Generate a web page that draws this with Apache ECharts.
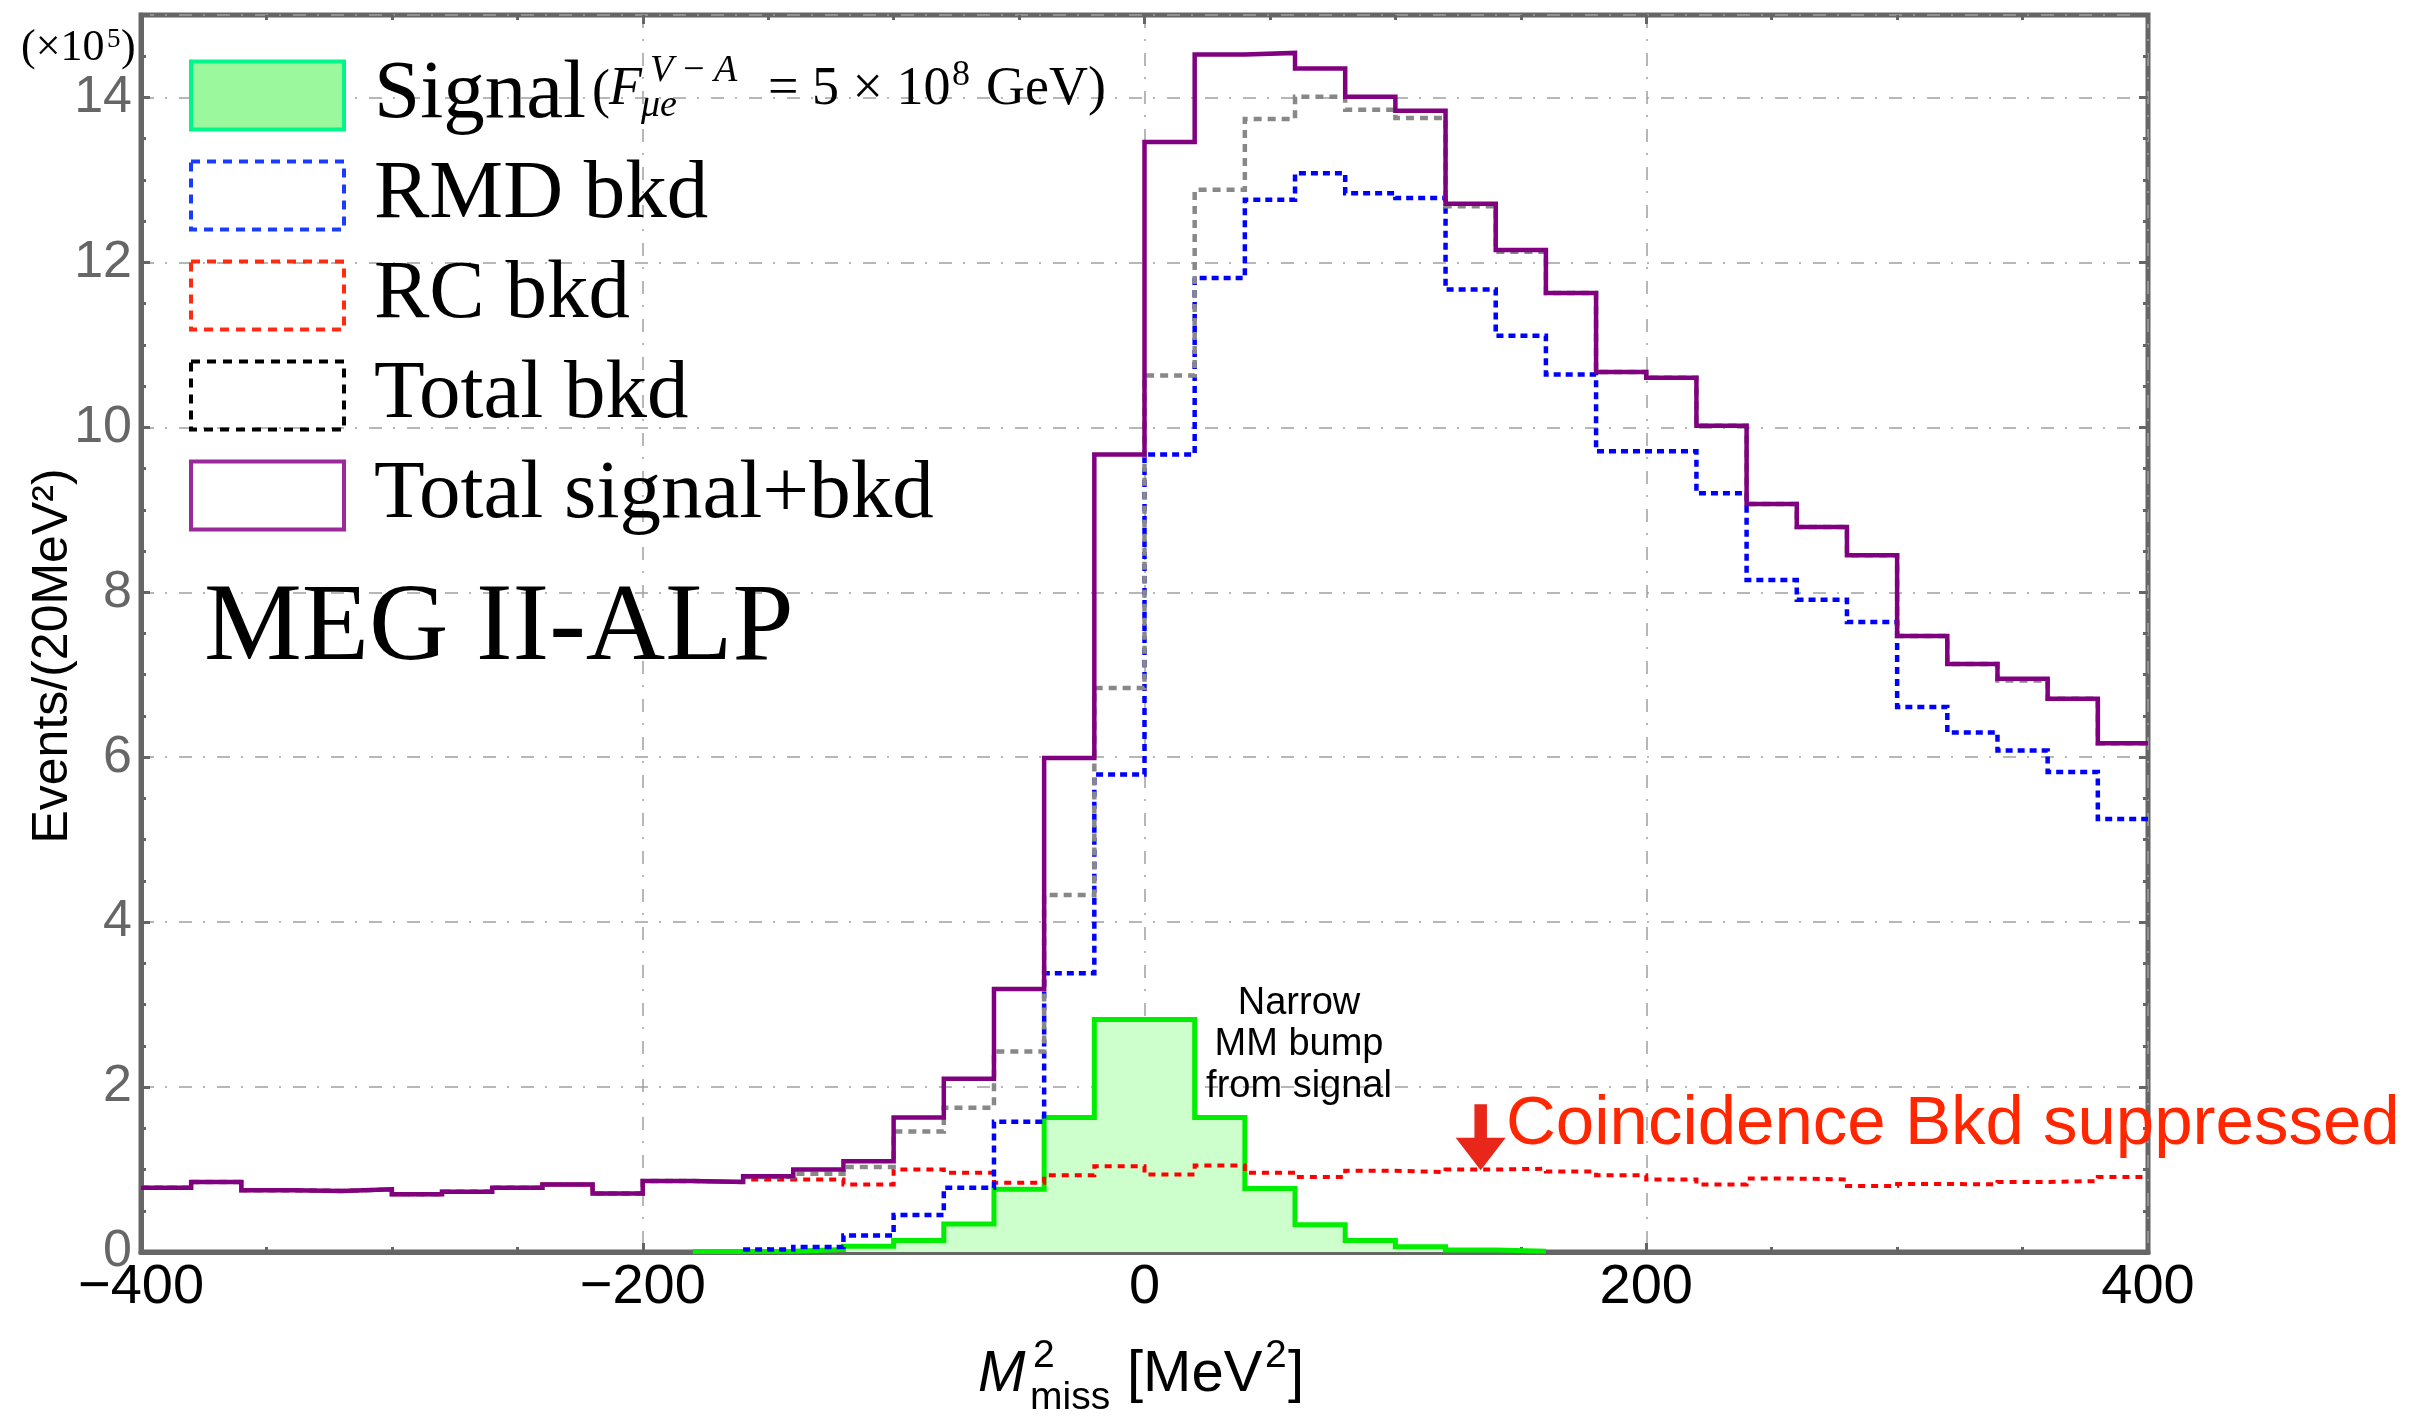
<!DOCTYPE html>
<html><head><meta charset="utf-8">
<script src="https://cdn.jsdelivr.net/npm/echarts@6/dist/echarts.min.js"></script>
<style>html,body{margin:0;padding:0;background:#fff}#c{width:2431px;height:1418px}</style>
</head><body><div id="c"></div>
<script>
// ---- data (x: bin edges in MeV^2, y: events / 20 MeV^2 in units of 1e5) ----
const binEdges = [-400,-380,-360,-340,-320,-300,-280,-260,-240,-220,-200,-180,-160,-140,-120,-100,-80,-60,-40,-20,0,20,40,60,80,100,120,140,160,180,200,220,240,260,280,300,320,340,360,380,400];
const xTickValues = [-400,-200,0,200,400];
const yTickValues = [0,2,4,6,8,10,12,14];
const seriesNames = ['Signal','RMD bkd','RC bkd','Total bkd','Total signal+bkd'];
const signalVals = [null,null,null,null,null,null,null,null,null,null,null,
  0.005,0.01,0.03,0.07,0.14,0.34,0.76,1.63,2.82,2.82,1.63,0.77,0.33,0.14,0.065,0.025,0.01,
  null,null,null,null,null,null,null,null,null,null,null,null];
const rmdVals = [null,null,null,null,null,null,null,null,null,null,null,null,
  0.03,0.06,0.20,0.45,0.78,1.58,3.38,5.79,9.67,11.81,12.76,13.08,12.84,12.78,11.67,11.11,10.64,9.71,9.71,9.20,8.15,7.91,7.64,6.61,6.30,6.08,5.82,5.25];
const rcVals = [0.78,0.85,0.75,0.74,0.76,0.70,0.73,0.78,0.82,0.71,0.86,0.85,
  0.88,0.88,0.82,1.00,0.96,0.84,0.93,1.04,0.94,1.05,0.96,0.91,0.985,0.97,1.00,1.01,0.975,0.93,0.88,0.82,0.89,0.88,0.80,0.825,0.82,0.85,0.86,0.91];
const totalBkdVals = [0.78,0.85,0.75,0.74,0.76,0.70,0.73,0.78,0.82,0.71,0.86,0.85,
  0.91,0.95,1.03,1.46,1.75,2.43,4.33,6.84,10.63,12.88,13.74,14.01,13.85,13.75,12.68,12.13,11.63,10.67,10.60,10.02,9.07,8.79,8.45,7.47,7.13,6.93,6.71,6.17];
const totalVals = [0.78,0.85,0.75,0.74,0.76,0.70,0.73,0.78,0.82,0.71,0.86,0.85,
  0.92,1.00,1.10,1.63,2.10,3.19,5.99,9.67,13.46,14.52,14.54,14.35,14.01,13.84,12.71,12.15,11.63,10.67,10.60,10.02,9.07,8.79,8.45,7.47,7.13,6.95,6.71,6.17];
const arrowTarget = [134, 0.99];

// histogram outline points built from the bin edges and bin values
function stepData(vals) {
  const pts = [];
  for (let i = 0; i < vals.length; i++) {
    const v = vals[i];
    if (v === null) {
      if (pts.length && pts[pts.length - 1][1] !== null) pts.push([binEdges[i], null]);
      continue;
    }
    pts.push([binEdges[i], v], [binEdges[i + 1], v]);
  }
  return pts;
}

const chart = echarts.init(document.getElementById('c'), null, {renderer: 'canvas'});
const SANS = '"Liberation Sans", Arial, Helvetica, sans-serif';
const SERIF = '"Liberation Serif", "Times New Roman", serif';
const gridDash = [13, 11, 2, 12];

function txt(str, x, baseline, size, family, extra) {
  const k = family === SERIF ? 0.3375 : 0.3465;
  const st = Object.assign({
    text: str, fontSize: size, fontFamily: family, fill: '#000',
    align: 'left', textAlign: 'left', verticalAlign: 'middle', textVerticalAlign: 'middle'
  }, extra || {});
  return {type: 'text', x: x, y: baseline - k * size, silent: true, z: 100, style: st};
}
const C = {align: 'center', textAlign: 'center'};

const graphics = [
  // y multiplier
  txt('(\u00d710', 21, 63, 44, SERIF),
  txt('5', 107, 49, 27, SERIF),
  txt(')', 121, 63, 44, SERIF),
  // y axis title (rotated)
  {type: 'text', x: 53, y: 656, rotation: Math.PI / 2, silent: true, z: 100,
   style: {text: 'Events/(20MeV\u00b2)', fontSize: 50, fontFamily: SANS, fill: '#000',
           align: 'center', textAlign: 'center', verticalAlign: 'middle', textVerticalAlign: 'middle'}},
  // Signal legend formula
  txt('(', 592, 111, 54, SERIF),
  txt('F', 609, 108, 54, SERIF, {fontStyle: 'italic'}),
  txt('V\u2009\u2212\u2009A', 650, 84, 38, SERIF, {fontStyle: 'italic'}),
  txt('\u03bce', 641, 119, 38, SERIF, {fontStyle: 'italic'}),
  txt('= 5 \u00d7 10', 768, 108, 54, SERIF),
  txt('8', 952, 88, 36, SERIF),
  txt('GeV)', 986, 108, 54, SERIF),
  // label
  txt('MEG II-ALP', 204, 667, 110, SERIF),
  // annotations
  txt('Narrow', 1299, 1017, 38, SANS, C),
  txt('MM bump', 1299, 1058, 38, SANS, C),
  txt('from signal', 1299, 1100, 38, SANS, C),
  txt('Coincidence Bkd suppressed', 1506, 1149, 69, SANS, {fill: '#ff2600'}),
  // x axis title
  txt('M', 978, 1395, 57, SANS, {fontStyle: 'italic'}),
  txt('2', 1033, 1370, 39, SANS),
  txt('miss', 1030, 1412, 39, SANS),
  txt('[MeV', 1127, 1395, 58, SANS),
  txt('2', 1265, 1370, 39, SANS),
  txt(']', 1288, 1395, 58, SANS)
];

function xAx(pos, labels) {
  return {
    type: 'value', position: pos, min: xTickValues[0], max: xTickValues[xTickValues.length - 1], interval: 200,
    axisLine: {show: pos === 'bottom', onZero: false, lineStyle: {color: '#666', width: 5}},
    axisTick: {show: true, inside: true, length: 9, lineStyle: {color: '#666', width: 3}},
    minorTick: {show: true, splitNumber: 4, length: 5, lineStyle: {color: '#666', width: 3}},
    axisLabel: {show: labels, color: '#000', fontSize: 56, fontFamily: SANS, margin: 8,
      formatter: v => (v < 0 ? '\u2212' + Math.abs(v) : String(v))},
    splitLine: {show: labels, lineStyle: {color: '#a0a0a0', width: 1.5, type: gridDash}}
  };
}
function yAx(pos, labels) {
  return {
    type: 'value', position: pos, min: 0, max: 15, interval: 2,
    axisLine: {show: pos === 'left', onZero: false, lineStyle: {color: '#666', width: 5}},
    axisTick: {show: true, inside: true, length: 9, lineStyle: {color: '#666', width: 3}},
    minorTick: {show: true, splitNumber: 4, length: 5, lineStyle: {color: '#666', width: 3}},
    axisLabel: {show: labels, color: '#666', fontSize: 52, fontFamily: SANS, margin: 9, showMaxLabel: false,
      formatter: v => (yTickValues.indexOf(v) >= 0 ? String(v) : '')},
    splitLine: {show: labels, lineStyle: {color: '#a0a0a0', width: 1.5, type: gridDash}}
  };
}

const lineBase = {type: 'line', showSymbol: false, symbol: 'none', silent: true, connectNulls: false, xAxisIndex: 0, yAxisIndex: 0};

chart.setOption({
  animation: false,
  backgroundColor: '#fff',
  grid: {left: 141, right: 283, top: 15, bottom: 166, show: true, borderColor: '#666', borderWidth: 5, backgroundColor: 'transparent'},
  xAxis: [xAx('bottom', true), xAx('top', false)],
  yAxis: [yAx('left', true), yAx('right', false)],
  legend: {
    orient: 'vertical', left: 189, top: 54, padding: 0,
    itemWidth: 153, itemHeight: 68, itemGap: 17,
    icon: 'rect', selectedMode: false,
    textStyle: {fontFamily: SERIF, fontSize: 83, color: '#000', padding: [0, 0, 0, 25]},
    data: [
      {name: seriesNames[0], itemStyle: {color: '#9cf89c', borderColor: '#00f68a', borderWidth: 4}},
      {name: seriesNames[1], itemStyle: {color: 'rgba(255,255,255,0)', borderColor: '#1a3cff', borderWidth: 4, borderType: [9, 7]}},
      {name: seriesNames[2], itemStyle: {color: 'rgba(255,255,255,0)', borderColor: '#ff2a10', borderWidth: 4, borderType: [9, 7]}},
      {name: seriesNames[3], itemStyle: {color: 'rgba(255,255,255,0)', borderColor: '#000000', borderWidth: 4, borderType: [9, 7]}},
      {name: seriesNames[4], itemStyle: {color: 'rgba(255,255,255,0)', borderColor: '#9a2a9a', borderWidth: 4}}
    ]
  },
  series: [
    Object.assign({}, lineBase, {
      name: seriesNames[0], data: stepData(signalVals), z: 2,
      lineStyle: {color: '#00ee00', width: 5, cap: 'butt', join: 'miter'},
      itemStyle: {color: '#00ee00'},
      areaStyle: {color: '#ccffcc', opacity: 1}
    }),
    Object.assign({}, lineBase, {
      name: seriesNames[2], data: stepData(rcVals), z: 3,
      lineStyle: {color: '#ff0000', width: 4, type: [7, 6], cap: 'butt', join: 'miter'},
      itemStyle: {color: '#ff0000'},
      markPoint: {
        silent: true, symbol: 'path://M18,0 L30,0 L30,33 L48,33 L24,65 L0,33 L18,33 Z',
        symbolSize: [50, 66], symbolKeepAspect: false, symbolOffset: [0, '-50%'],
        itemStyle: {color: '#e8261a'}, label: {show: false},
        data: [{coord: arrowTarget}]
      }
    }),
    Object.assign({}, lineBase, {
      name: seriesNames[1], data: stepData(rmdVals), z: 4,
      lineStyle: {color: '#0000ff', width: 4.5, type: [7, 5], cap: 'butt', join: 'miter'},
      itemStyle: {color: '#0000ff'}
    }),
    Object.assign({}, lineBase, {
      name: seriesNames[3], data: stepData(totalBkdVals), z: 5,
      lineStyle: {color: '#888888', width: 4.5, type: [8, 6], cap: 'butt', join: 'miter'},
      itemStyle: {color: '#888888'}
    }),
    Object.assign({}, lineBase, {
      name: seriesNames[4], data: stepData(totalVals), z: 6,
      lineStyle: {color: '#800080', width: 4.5, cap: 'butt', join: 'miter'},
      itemStyle: {color: '#800080'}
    })
  ],
  graphic: graphics
});
</script></body></html>
